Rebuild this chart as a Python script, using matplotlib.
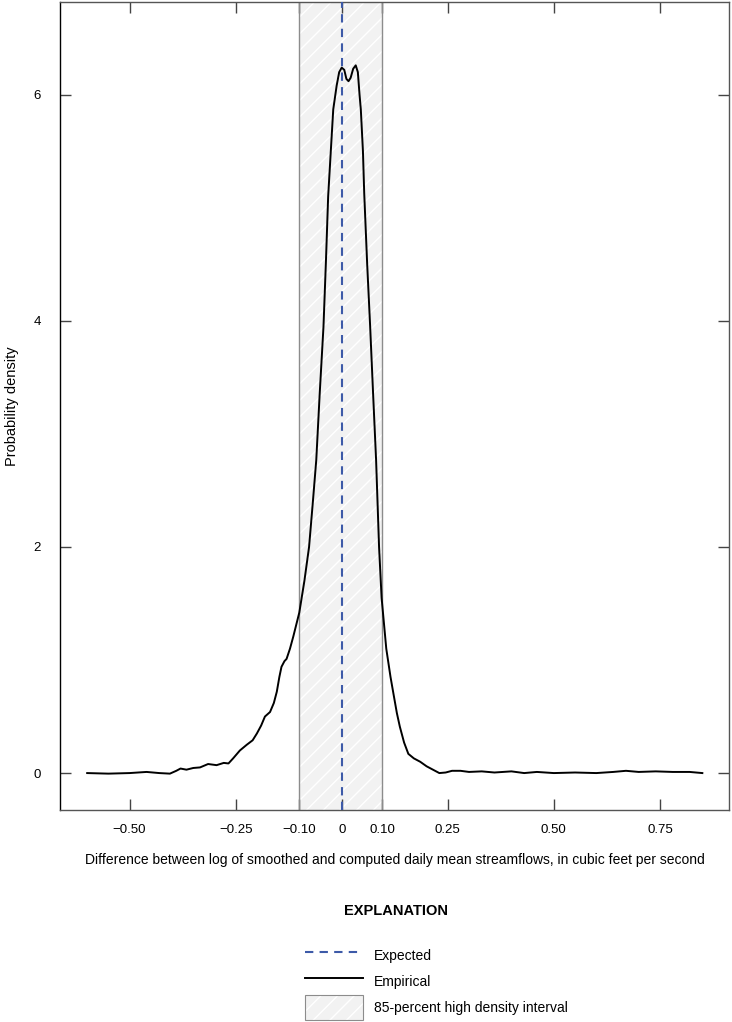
import matplotlib.pyplot as plt
from matplotlib.lines import Line2D
from matplotlib.patches import Patch

plt.rcParams['font.family'] = ['Liberation Sans', 'DejaVu Sans']
plt.rcParams['hatch.color'] = 'white'
plt.rcParams['hatch.linewidth'] = 1.0

# Empirical density
diff = [-0.60, -0.55, -0.50, -0.46, -0.43, -0.405, -0.39, -0.38, -0.366, -0.35,
        -0.334, -0.315, -0.295, -0.278, -0.267, -0.256, -0.24, -0.224, -0.21, -0.20,
        -0.19, -0.181, -0.169, -0.16, -0.153, -0.147, -0.142, -0.135, -0.13, -0.122,
        -0.114, -0.10, -0.088, -0.077, -0.068, -0.06, -0.052, -0.043, -0.037, -0.032,
        -0.025, -0.02, -0.012, -0.006, 0.0, 0.006, 0.011, 0.016, 0.021, 0.027,
        0.033, 0.038, 0.042, 0.045, 0.050, 0.053, 0.060, 0.067, 0.074, 0.081,
        0.088, 0.094, 0.105, 0.115, 0.122, 0.13, 0.137, 0.147, 0.157, 0.17,
        0.185, 0.20, 0.215, 0.23, 0.245, 0.26, 0.28, 0.30, 0.33, 0.36,
        0.40, 0.43, 0.46, 0.50, 0.55, 0.60, 0.64, 0.67, 0.70, 0.74, 0.78, 0.82, 0.85]
density = [0.0, -0.005, 0.0, 0.01, 0.0, -0.005, 0.02, 0.04, 0.03, 0.045,
           0.05, 0.08, 0.07, 0.09, 0.085, 0.13, 0.20, 0.25, 0.29, 0.35,
           0.42, 0.50, 0.54, 0.62, 0.72, 0.85, 0.94, 0.99, 1.01, 1.10,
           1.21, 1.42, 1.70, 2.0, 2.4, 2.77, 3.35, 3.95, 4.55, 5.1,
           5.55, 5.87, 6.08, 6.2, 6.24, 6.22, 6.14, 6.12, 6.15, 6.23,
           6.26, 6.2, 6.0, 5.87, 5.5, 5.13, 4.5, 3.95, 3.35, 2.77,
           2.0, 1.55, 1.1, 0.85, 0.70, 0.53, 0.41, 0.27, 0.17, 0.13,
           0.10, 0.06, 0.03, 0.0, 0.005, 0.02, 0.02, 0.01, 0.015, 0.005,
           0.015, 0.0, 0.01, 0.0, 0.005, 0.0, 0.01, 0.02, 0.01, 0.015, 0.01, 0.01, 0.0]

expected = 0.0
hdi_low, hdi_high = -0.10, 0.095

xticks = [-0.50, -0.25, hdi_low, 0.0, hdi_high, 0.25, 0.50, 0.75]
xtick_labels = ['\u22120.50', '\u22120.25', '\u22120.10', '0', '0.10', '0.25', '0.50', '0.75']
yticks = [0, 2, 4, 6]

fig = plt.figure(figsize=(7.32, 10.22), dpi=100)
ax = fig.add_axes([0.082, 0.2074, 0.914, 0.7906])

# HDI band
ax.axvspan(hdi_low, hdi_high, facecolor='#f2f2f2', edgecolor='white', hatch='//',
           linewidth=0, zorder=1)
for b in (hdi_low, hdi_high):
    ax.axvline(b, color='#8c8c8c', lw=1.0, zorder=2)

ax.axvline(expected, color='#3d5aa8', lw=1.5, dashes=(4, 3), zorder=4)
ax.plot(diff, density, color='black', lw=1.4, zorder=3)

ax.set_xlim(-0.664, 0.913)
ax.set_ylim(-0.327, 6.82)

ax.set_xticks(xticks)
ax.set_xticklabels(xtick_labels)
ax.set_yticks(yticks)
ax.tick_params(direction='in', length=8, width=1, colors='#444444', labelcolor='black',
               top=True, right=True, labelsize=9.5)
ax.tick_params(axis='x', pad=10)
ax.tick_params(axis='y', pad=14)

for side, spine in ax.spines.items():
    spine.set_color('black' if side == 'left' else '#555555')
    spine.set_linewidth(1.0)

ax.set_xlabel('Difference between log of smoothed and computed daily mean streamflows, in cubic feet per second',
              fontsize=10, labelpad=12)
ax.set_ylabel('Probability density', fontsize=10.5, labelpad=10)

fig.text(0.541, 0.109, 'EXPLANATION', ha='center', va='center', fontsize=10.5, fontweight='bold')

hdi_handle = (Patch(facecolor='#f2f2f2', edgecolor='white', hatch='//', lw=0),
              Patch(facecolor='none', edgecolor='#8c8c8c', lw=0.8))
handles = [
    Line2D([], [], color='#3d5aa8', lw=1.5, dashes=(4, 3)),
    Line2D([], [], color='black', lw=1.4),
    hdi_handle,
]
labels = ['Expected', 'Empirical', '85-percent high density interval']
fig.legend(handles, labels, loc='upper left', bbox_to_anchor=(0.405, 0.085),
           frameon=False, fontsize=10, handlelength=4.2, handleheight=2.4,
           labelspacing=0.05, handletextpad=0.75, borderaxespad=0.2)

fig.savefig('out.png', dpi=100)
